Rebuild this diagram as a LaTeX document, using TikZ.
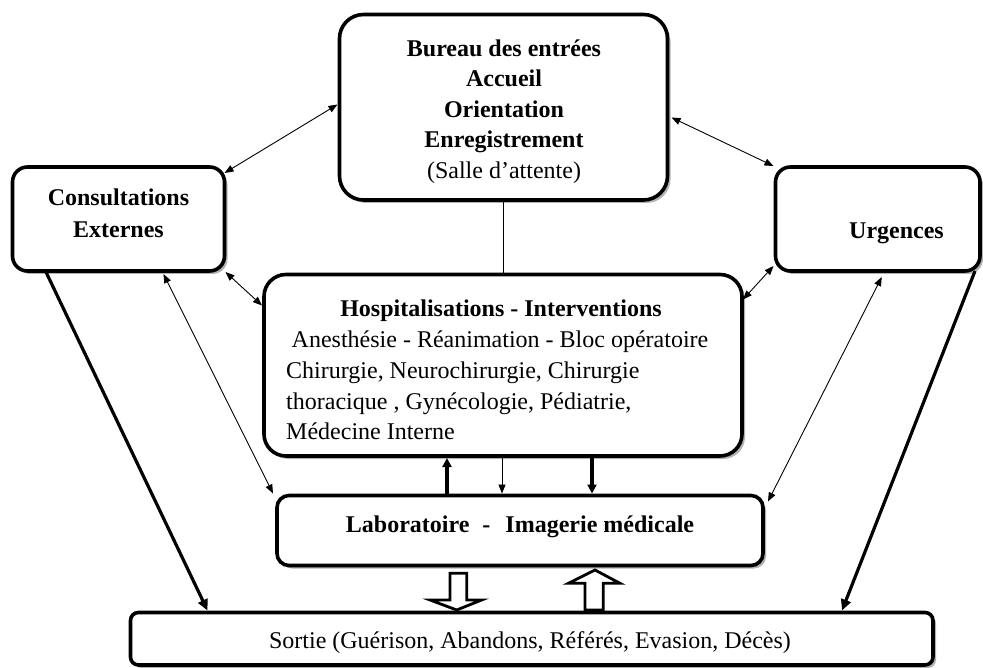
\documentclass[tikz,border=0pt]{standalone}
\usepackage{fontspec}
\setmainfont{Liberation Serif}
\usetikzlibrary{arrows.meta,calc,shadows}
\begin{document}
\begin{tikzpicture}[x=1pt,y=-1pt,
  box/.style={draw, line width=3.6pt, fill=white, inner sep=0pt, outer sep=0pt,
    drop shadow={shadow xshift=3pt, shadow yshift=-3pt, fill=black, opacity=0.3}},
  tx/.style={inner sep=0pt, font=\fontsize{24}{30.4}\selectfont},
  bx/.style={inner sep=0pt, font=\fontsize{24}{30.4}\selectfont\bfseries},
  twoway/.style={line width=0.9pt, {Triangle[length=9pt,width=7pt]}-{Triangle[length=9pt,width=7pt]}},
  oneway/.style={line width=0.9pt, -{Triangle[length=9pt,width=7pt]}},
  heavy/.style={line width=3.2pt, -{Triangle[length=11pt,width=10pt]}},
  hollow/.style={draw, line width=2.8pt, fill=white, line join=miter},
]
\useasboundingbox (0,0) rectangle (983,668);

% boxes
\node[box, rounded corners=24pt, minimum width=328pt, minimum height=185.5pt] (bureau) at (503.5,107.25) {};
\node[box, rounded corners=15pt, minimum width=212pt, minimum height=104pt] (consult) at (118.5,219) {};
\node[box, rounded corners=15pt, minimum width=204.5pt, minimum height=104pt] (urg) at (877.75,219) {};
\node[box, rounded corners=22pt, minimum width=478pt, minimum height=181.5pt] (hosp) at (503,365.25) {};
\node[box, rounded corners=12pt, minimum width=486pt, minimum height=70pt] (lab) at (520,530.5) {};
\node[box, rounded corners=8pt, minimum width=802.5pt, minimum height=52.5pt] (sortie) at (531.75,638.75) {};

% texts
\node[bx, align=center] (bureauT) at (504,111.5) {Bureau des entrées\\Accueil\\Orientation\\Enregistrement\\\mdseries(Salle d’attente)};
\node[bx, align=center, font=\fontsize{24}{32}\selectfont\bfseries] (consultT) at (118.5,213.2) {Consultations\\Externes};
\node[bx, anchor=base] (urgT) at (896.5,238.3) {Urgences};
\node[bx, anchor=base] (hospT1) at (501,316.7) {Hospitalisations - Interventions};
\node[tx, anchor=base] (hospT2) at (500,347.3) {Anesthésie - Réanimation - Bloc opératoire};
\node[tx, anchor=north west, align=left] (hospT3) at (286,361.9) {Chirurgie, Neurochirurgie, Chirurgie\\thoracique , Gynécologie, Pédiatrie,\\Médecine Interne};
\node[bx, anchor=base] (labT) at (520,532.7) {Laboratoire\hspace{13pt}-\hspace{15pt}Imagerie médicale};
\node[tx, anchor=base] (sortieT) at (530,648.3) {Sortie (Guérison, Abandons, Référés, Evasion, Décès)};

% connectors
\draw[twoway] ([xshift=-2pt,yshift=-90pt]bureau.north west) -- ([yshift=-6pt]consult.north east);
\draw[twoway] ([xshift=4pt,yshift=-103pt]bureau.north east) -- ([xshift=-2pt,yshift=1pt]urg.north west);
\draw[line width=0.9pt] (hosp.north |- bureau.south) -- (hosp.north);
\draw[twoway] ([xshift=1pt,yshift=-1pt]consult.south east) -- ([xshift=-2pt,yshift=-31pt]hosp.north west);
\draw[twoway] ([xshift=-2pt,yshift=5pt]urg.south west) -- ([xshift=1pt,yshift=-25pt]hosp.north east);
\draw[twoway] ([xshift=45pt,yshift=-3pt]consult.south) -- ([xshift=-4pt,yshift=2pt]lab.north west);
\draw[twoway] ([xshift=4pt,yshift=-6pt]urg.south) -- ([xshift=5pt,yshift=-6pt]lab.north east);
\draw[heavy] ([xshift=33pt]consult.south west) -- ([xshift=77pt,yshift=2pt]sortie.north west);
\draw[heavy] ([xshift=-5pt]urg.south east) -- ([xshift=-91pt,yshift=2pt]sortie.north east);
\draw[heavy, -{Triangle[length=9pt,width=9pt]}] ([xshift=-73pt]lab.north) -- ([xshift=-56pt,yshift=-2pt]hosp.south);
\draw[oneway] ([xshift=-1pt,yshift=-2pt]hosp.south) -- ([xshift=-18pt,yshift=2pt]lab.north);
\draw[heavy, -{Triangle[length=9pt,width=9pt]}] ([xshift=89pt,yshift=-2pt]hosp.south) -- ([xshift=72pt,yshift=2pt]lab.north);

% hollow block arrows between lab and sortie
\begin{scope}[shift={(lab.south)}]
  \draw[hollow] (-70,7.8) -- (-53.3,7.8) -- (-53.3,34.5) -- (-38.3,34.5) -- (-63.3,44.5) -- (-90,34.5) -- (-70,34.5) -- cycle;
  \draw[hollow] (65,44.5) -- (65,17.8) -- (48.3,17.8) -- (75,4.5) -- (100,17.8) -- (83.3,17.8) -- (83.3,44.5) -- cycle;
\end{scope}
\end{tikzpicture}
\end{document}
